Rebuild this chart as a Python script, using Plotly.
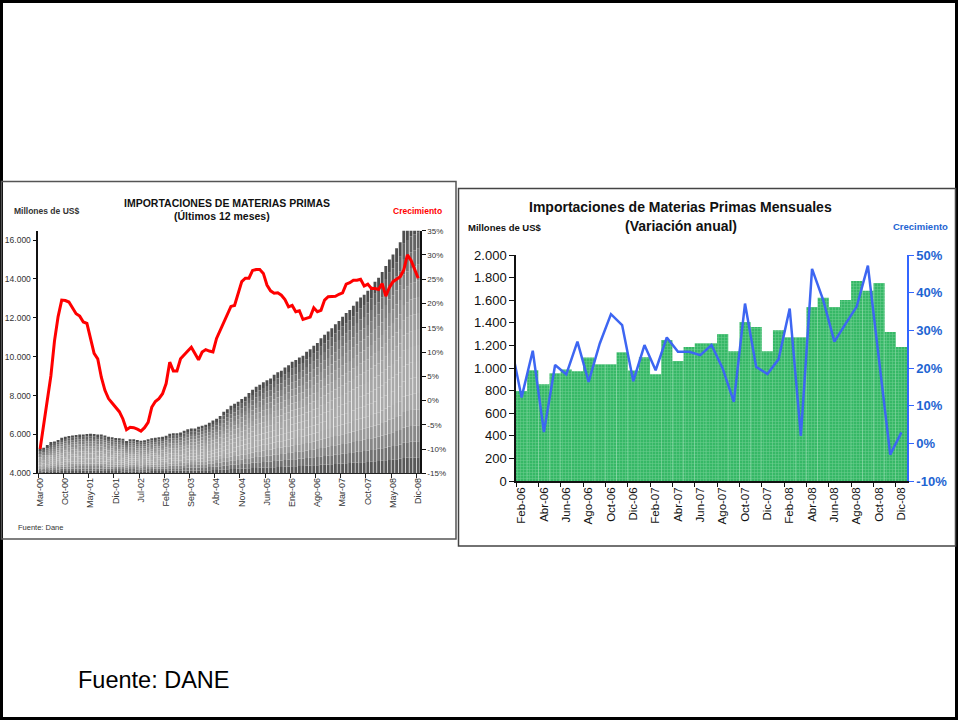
import math
import plotly.graph_objects as go

W, H = 958, 720

# ---- left chart: imports of raw materials, last 12 months (Mar-00 .. Dic-08)
imports_12m = [
    5285, 5320, 5450, 5610, 5630, 5710, 5830, 5885, 5920, 5950,
    5970, 5990, 6000, 6020, 6030, 6020, 5990, 6000, 5950, 5885,
    5850, 5815, 5800, 5780, 5660, 5750, 5750, 5710, 5680, 5700,
    5750, 5800, 5830, 5850, 5885, 5935, 6040, 6056, 6056, 6100,
    6190, 6260, 6310, 6310, 6400, 6450, 6500, 6600, 6710, 6810,
    6950, 7170, 7290, 7470, 7580, 7680, 7820, 7940, 8130, 8300,
    8450, 8550, 8680, 8790, 8880, 9070, 9200, 9280, 9440, 9560,
    9740, 9830, 9960, 10050, 10250, 10380, 10560, 10700, 10950, 11130,
    11300, 11460, 11670, 11830, 12050, 12240, 12400, 12620, 12840, 13050,
    13190, 13390, 13600, 13850, 14060, 14350, 14660, 15000, 15250, 15580,
    15880, 16600, 16800, 17000, 17100, 17200,
]
growth_12m = [
    -10.0, -4.9, 0.1, 5.1, 12.3, 17.3, 20.7, 20.6, 20.3, 19.1,
    17.9, 17.4, 16.2, 15.9, 13.1, 9.7, 8.6, 4.8, 2.1, 0.4,
    -0.5, -1.4, -2.3, -3.8, -6.0, -5.5, -5.6, -5.9, -6.3, -5.6,
    -4.5, -1.4, -0.2, 0.4, 1.4, 3.5, 7.9, 6.1, 6.1, 8.6,
    9.5, 10.2, 11.0, 9.8, 8.4, 10.0, 10.5, 10.2, 10.0, 12.8,
    14.5, 16.0, 17.6, 19.4, 19.6, 22.1, 24.5, 25.2, 25.2, 26.8,
    27.0, 27.0, 26.2, 23.8, 22.6, 22.1, 22.2, 21.7, 20.8, 19.3,
    19.6, 18.3, 18.5, 16.7, 17.0, 17.2, 19.1, 18.3, 18.6, 20.7,
    21.4, 21.5, 21.5, 21.9, 22.2, 24.0, 24.3, 24.8, 24.8, 25.0,
    23.6, 24.0, 23.1, 23.1, 22.9, 24.1, 21.5, 23.3, 24.5, 25.0,
    25.5, 26.9, 30.0, 28.9, 27.0, 25.2,
]
left_ticks = ["Mar-00", "Oct-00", "May-01", "Dic-01", "Jul-02", "Feb-03", "Sep-03", "Abr-04",
              "Nov-04", "Jun-05", "Ene-06", "Ago-06", "Mar-07", "Oct-07", "May-08", "Dic-08"]
left_tick_step = 7

# ---- right chart: monthly imports (Feb-06 .. Dic-08), growth series starts Ene-06
monthly_imports = [
    797, 981, 857, 954, 987, 972, 1094, 1034, 1034, 1140,
    978, 1096, 945, 1247, 1061, 1185, 1220, 1220, 1300, 1149,
    1406, 1363, 1149, 1335, 1273, 1273, 1539, 1622, 1539, 1601,
    1770, 1684, 1752, 1318, 1185,
]
monthly_growth = [
    27.0, 12.2, 24.6, 3.0, 20.8, 18.3, 27.0, 16.3, 26.5, 34.3,
    31.4, 16.5, 26.1, 19.4, 28.1, 24.3, 24.3, 23.4, 26.1, 19.9,
    11.0, 37.1, 20.3, 18.4, 22.3, 35.8, 2.0, 46.3, 38.0, 27.0,
    31.7, 36.3, 47.2, 22.1, -3.0, 2.9,
]
right_ticks = ["Feb-06", "Abr-06", "Jun-06", "Ago-06", "Oct-06", "Dic-06", "Feb-07", "Abr-07",
               "Jun-07", "Ago-07", "Oct-07", "Dic-07", "Feb-08", "Abr-08", "Jun-08", "Ago-08",
               "Oct-08", "Dic-08"]


def px(x):
    return x / W


def py(y):
    return 1 - y / H


FONT = "Arial, Liberation Sans, sans-serif"
fig = go.Figure()

# grey bars with a vertical gradient (dark-light-dark), built from stacked slices
n_slices = 16
dark_bot, light, dark_top = (75, 75, 75), (170, 170, 170), (60, 60, 60)
x_left = list(range(len(imports_12m)))
floor = 4000
for k in range(n_slices):
    t = (k + 0.5) / n_slices
    if t < 0.35:
        w = math.sin(t / 0.35 * math.pi / 2)
        col = [d + (l - d) * w for d, l in zip(dark_bot, light)]
    else:
        w = math.cos((t - 0.35) / 0.65 * math.pi / 2) ** 0.7
        col = [d + (l - d) * w for d, l in zip(dark_top, light)]
    fig.add_trace(go.Bar(
        x=x_left,
        y=[(v - floor) / n_slices for v in imports_12m],
        base=[floor + (v - floor) * k / n_slices for v in imports_12m],
        width=0.8,
        marker=dict(color="rgb(%d,%d,%d)" % tuple(round(c) for c in col), line=dict(width=0)),
        xaxis="x", yaxis="y", hoverinfo="skip",
    ))

fig.add_trace(go.Scatter(
    x=x_left, y=growth_12m, mode="lines",
    line=dict(color="#ff0000", width=3),
    xaxis="x", yaxis="y2",
))

# right chart
x_right = list(range(len(monthly_imports)))
fig.add_trace(go.Bar(
    x=x_right, y=monthly_imports, width=1.0,
    marker=dict(
        color="#4fc47c",
        line=dict(width=0),
        pattern=dict(shape="+", size=3, solidity=0.3, fgcolor="#a5e4bb", bgcolor="#36b866"),
    ),
    xaxis="x3", yaxis="y3",
))
fig.add_trace(go.Scatter(
    x=list(range(-1, len(monthly_imports))), y=monthly_growth, mode="lines",
    line=dict(color="#3d66f2", width=2.5),
    xaxis="x3", yaxis="y4",
))

left_tick_pos = list(range(0, len(imports_12m), left_tick_step))
right_tick_pos = list(range(0, len(monthly_imports), 2))
pct_left = list(range(-15, 36, 5))
pct_right = list(range(-10, 51, 10))

axis_common = dict(showgrid=False, zeroline=False, fixedrange=True, automargin=False)

fig.update_layout(
    width=W, height=H,
    margin=dict(l=0, r=0, t=0, b=0, pad=0, autoexpand=False),
    paper_bgcolor="white", plot_bgcolor="rgba(0,0,0,0)",
    showlegend=False, barmode="overlay", separators=",.",
    font=dict(family=FONT, color="#222"),
    xaxis=dict(
        domain=[px(38.3), px(420)], range=[-0.5, len(imports_12m) - 0.5], anchor="y",
        showline=True, linecolor="#222", linewidth=1,
        tickmode="array", tickvals=left_tick_pos, ticktext=left_ticks, tickangle=-90,
        ticks="", tickfont=dict(size=9, color="#333"),
        minor=dict(tickmode="array", tickvals=[p - 0.5 for p in left_tick_pos],
                   ticks="outside", ticklen=4, tickcolor="#222"),
        **axis_common,
    ),
    yaxis=dict(
        domain=[py(473.3), py(230.7)], range=[4000, 16480], anchor="x",
        tickvals=list(range(4000, 16001, 2000)), tickformat=",d",
        showline=True, linecolor="#111", linewidth=1.5,
        ticks="outside", ticklen=4, tickcolor="#111",
        tickfont=dict(size=8.5, color="#333"),
        **axis_common,
    ),
    yaxis2=dict(
        overlaying="y", side="right", anchor="x", range=[-15, 35],
        tickvals=pct_left, ticktext=["%d%%" % v for v in pct_left],
        showline=True, linecolor="#111", linewidth=1.5,
        ticks="outside", ticklen=4, tickcolor="#111",
        tickfont=dict(size=8, color="#333"),
        **axis_common,
    ),
    xaxis3=dict(
        domain=[px(516), px(907)], range=[-0.5, len(monthly_imports) - 0.5], anchor="y3",
        showline=True, linecolor="#111", linewidth=1.5,
        tickmode="array", tickvals=right_tick_pos, ticktext=right_ticks, tickangle=-90,
        ticks="", tickfont=dict(size=11.5, color="#111"),
        minor=dict(tickmode="array", tickvals=[p - 0.5 for p in right_tick_pos],
                   ticks="outside", ticklen=4, tickcolor="#111"),
        **axis_common,
    ),
    yaxis3=dict(
        domain=[py(481), py(255)], range=[0, 2000], anchor="x3",
        tickvals=list(range(0, 2001, 200)), tickformat=",d",
        showline=True, linecolor="#111", linewidth=1.5,
        ticks="outside", ticklen=5, tickcolor="#111",
        tickfont=dict(size=13, color="#111"),
        **axis_common,
    ),
    yaxis4=dict(
        overlaying="y3", side="right", anchor="x3", range=[-10, 50],
        tickvals=pct_right, ticktext=["%d%%" % v for v in pct_right],
        showline=True, linecolor="#3366ff", linewidth=1.5,
        ticks="outside", ticklen=5, tickcolor="#3366ff",
        tickfont=dict(size=13, color="#1e64d2", family=FONT, weight="bold"),
        **axis_common,
    ),
)


def label(x, y, text, size, color="#111", bold=False, xanchor="center"):
    fig.add_annotation(
        x=px(x), y=py(y), xref="paper", yref="paper", text=text, showarrow=False,
        xanchor=xanchor, yanchor="middle",
        font=dict(size=size, color=color, family=FONT, weight="bold" if bold else "normal"),
    )


# left chart texts
label(227, 202.5, "IMPORTACIONES DE MATERIAS PRIMAS", 10.5, bold=True)
label(221.5, 216.5, "(Últimos 12 meses)", 10.5, bold=True)
label(12, 211.5, "Millones de US$", 8.5, color="#333", bold=True, xanchor="left")
label(417, 211.5, "Crecimiento", 8.5, color="#ff0000", bold=True)
label(16, 527.5, "Fuente: Dane", 7.5, color="#333", xanchor="left")

# right chart texts
label(680, 206.5, "Importaciones de Materias Primas Mensuales", 14, bold=True)
label(680.5, 225.5, "(Variación anual)", 14, bold=True)
label(466, 227, "Millones de US$", 9.5, bold=True, xanchor="left")
label(920.5, 226.5, "Crecimiento", 9.5, color="#1e64d2", bold=True)

# slide footer
label(76, 680, "Fuente: DANE", 23.5, color="#000", xanchor="left")

# frames
fig.add_shape(type="rect", xref="paper", yref="paper",
              x0=px(1.5), x1=px(956.5), y0=py(1.5), y1=py(718.5),
              line=dict(color="#000", width=3))
fig.add_shape(type="rect", xref="paper", yref="paper",
              x0=px(1.5), x1=px(456), y0=py(181.5), y1=py(539),
              line=dict(color="#555", width=1.5))
fig.add_shape(type="rect", xref="paper", yref="paper",
              x0=px(458.5), x1=px(955.5), y0=py(188.5), y1=py(546),
              line=dict(color="#444", width=1.5))

# pin the figure to the top-left corner of the window, with nothing else on the page
pin = (
    "var d = document.getElementById('{plot_id}');"
    "d.style.position = 'fixed'; d.style.left = '0px'; d.style.top = '0px';"
    "document.body.style.margin = '0';"
    "document.body.style.overflow = 'hidden';"
    "document.documentElement.style.overflow = 'hidden';"
)
fig.write_html("out.html", config={"displayModeBar": False}, post_script=pin)
